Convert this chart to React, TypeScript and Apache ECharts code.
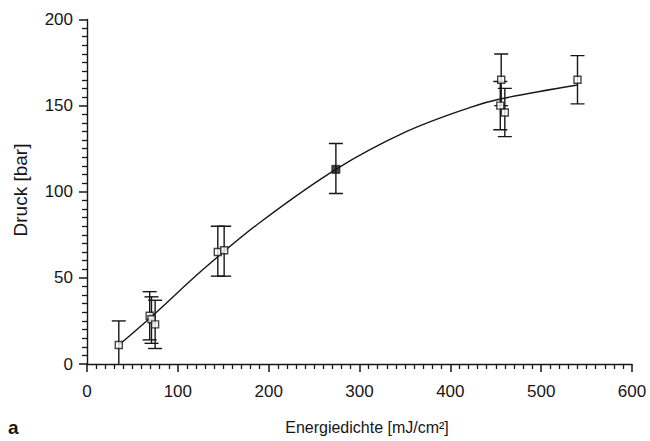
import React, { useEffect, useRef } from "react";
import * as echarts from "echarts";

// Measured points: energy density [mJ/cm²], pressure [bar], error bar low/high
const energy = [35, 69, 71, 75, 144, 151, 274, 456, 455, 460, 540];
const pressure = [11, 28, 26, 23, 65, 66, 113, 165, 150, 146, 165];
const errLow = [-3, 14, 12, 9, 51, 51, 99, 150, 136, 132, 151];
const errHigh = [25, 42, 39, 37, 80, 80, 128, 180, 164, 160, 179];
const filled = [false, false, false, false, false, false, true, false, false, false, false];

// Fitted curve
const curveX = [35, 70, 128, 190, 274, 352, 422, 456, 540];
const curveY = [11, 27, 55, 82, 113, 135, 149, 154, 162];

const xTicks = [0, 100, 200, 300, 400, 500, 600];
const yTicks = [0, 50, 100, 150, 200];

const INK = "#161616";
const FONT = "'Liberation Sans', Arial, Helvetica, sans-serif";

export default function App() {
  const ref = useRef<HTMLDivElement>(null);
  useEffect(() => {
    if (!ref.current) return;
    const chart = echarts.init(ref.current, null, { renderer: "svg" });
    const errData = energy.map((x, i) => [x, errLow[i], errHigh[i]]);
    const openPts = energy
      .map((x, i) => (filled[i] ? null : [x, pressure[i]]))
      .filter((d) => d !== null);
    const filledPts = energy
      .map((x, i) => (filled[i] ? [x, pressure[i]] : null))
      .filter((d) => d !== null);
    const xMin = xTicks[0];
    const xMax = xTicks[xTicks.length - 1];
    const yMin = yTicks[0];
    const yMax = yTicks[yTicks.length - 1];
    chart.setOption({
      animation: false,
      backgroundColor: "#ffffff",
      grid: { left: 87, right: 18, top: 19.5, bottom: 77 },
      xAxis: {
        type: "value",
        min: xMin,
        max: xMax,
        interval: 100,
        axisLine: { show: true, lineStyle: { color: INK, width: 1.4 } },
        axisTick: { show: true, length: 8, lineStyle: { color: INK, width: 1.5 } },
        minorTick: { show: true, splitNumber: 10, length: 5, lineStyle: { color: INK, width: 1.3 } },
        splitLine: { show: false },
        axisLabel: { color: INK, fontSize: 17, fontFamily: FONT, margin: 19 },
      },
      yAxis: {
        type: "value",
        min: yMin,
        max: yMax,
        interval: 50,
        axisLine: { show: true, lineStyle: { color: INK, width: 1.4 } },
        axisTick: { show: true, length: 8, lineStyle: { color: INK, width: 1.5 } },
        minorTick: { show: true, splitNumber: 10, length: 5, lineStyle: { color: INK, width: 1.3 } },
        splitLine: { show: false },
        axisLabel: { color: INK, fontSize: 17, fontFamily: FONT, margin: 14 },
      },
      series: [
        {
          type: "line",
          data: curveX.map((x, i) => [x, curveY[i]]),
          smooth: 0.35,
          showSymbol: false,
          lineStyle: { color: INK, width: 1.4 },
          z: 2,
        },
        {
          type: "custom",
          clip: true,
          data: errData,
          renderItem: (params: any, api: any) => {
            const x = api.value(0);
            const pLo = api.coord([x, api.value(1)]);
            const pHi = api.coord([x, api.value(2)]);
            const hw = 7;
            const style = { stroke: INK, lineWidth: 1.4 };
            return {
              type: "group",
              children: [
                { type: "line", shape: { x1: pHi[0], y1: pHi[1], x2: pLo[0], y2: pLo[1] }, style },
                { type: "line", shape: { x1: pHi[0] - hw, y1: pHi[1], x2: pHi[0] + hw, y2: pHi[1] }, style },
                { type: "line", shape: { x1: pLo[0] - hw, y1: pLo[1], x2: pLo[0] + hw, y2: pLo[1] }, style },
              ],
            };
          },
          z: 3,
        },
        {
          type: "scatter",
          data: openPts,
          symbol: "rect",
          symbolSize: 7,
          itemStyle: { color: "#ffffff", borderColor: INK, borderWidth: 1.4 },
          z: 4,
        },
        {
          type: "scatter",
          data: filledPts,
          symbol: "rect",
          symbolSize: 8,
          itemStyle: { color: INK, borderColor: INK, borderWidth: 1 },
          z: 4,
        },
      ],
      graphic: [
        {
          type: "text",
          x: 20,
          y: 190,
          rotation: Math.PI / 2,
          style: {
            text: "Druck [bar]",
            fill: INK,
            font: `19px ${FONT}`,
            align: "center",
            verticalAlign: "middle",
          },
        },
        {
          type: "text",
          x: 367,
          y: 427,
          style: {
            text: "Energiedichte [mJ/cm²]",
            fill: INK,
            font: `16px ${FONT}`,
            align: "center",
            verticalAlign: "middle",
          },
        },
        {
          type: "text",
          x: 8,
          y: 427,
          style: {
            text: "a",
            fill: INK,
            font: `bold 19px ${FONT}`,
            align: "left",
            verticalAlign: "middle",
          },
        },
      ],
    });
    return () => chart.dispose();
  }, []);
  return <div ref={ref} style={{ width: 650, height: 441, position: "absolute", left: 0, top: 0 }} />;
}
